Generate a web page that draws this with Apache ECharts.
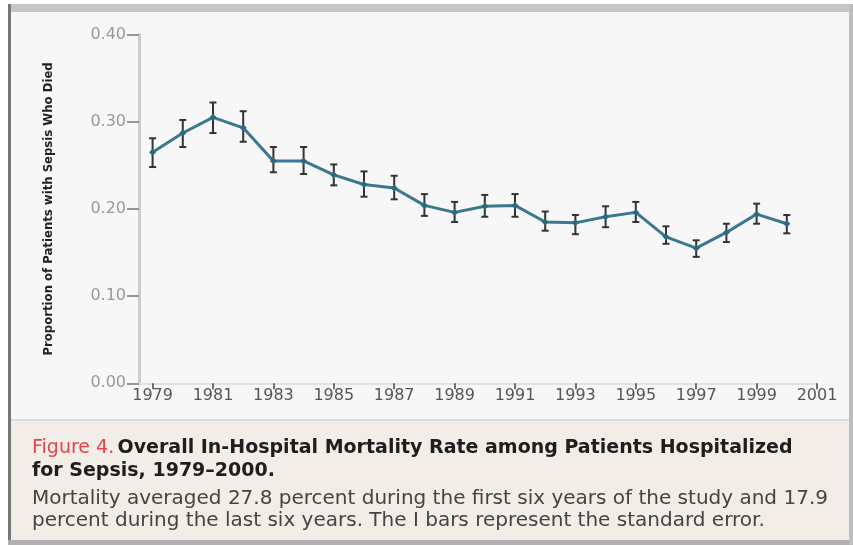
<!DOCTYPE html>
<html>
<head>
<meta charset="utf-8">
<script src="https://cdn.jsdelivr.net/npm/echarts@6/dist/echarts.min.js"></script>
<style>
  html, body { margin: 0; padding: 0; background: #ffffff; }
  #main { width: 853px; height: 545px; }
</style>
</head>
<body>
<div id="main"></div>
<script>
'use strict';

// values
var years = [1979, 1980, 1981, 1982, 1983, 1984, 1985, 1986, 1987, 1988, 1989,
             1990, 1991, 1992, 1993, 1994, 1995, 1996, 1997, 1998, 1999, 2000];
var mortality = [0.265, 0.287, 0.305, 0.293, 0.255, 0.255, 0.239, 0.228, 0.224, 0.204, 0.196,
                 0.203, 0.204, 0.185, 0.184, 0.191, 0.196, 0.168, 0.155, 0.173, 0.194, 0.183];
var errLow = [0.248, 0.271, 0.287, 0.277, 0.242, 0.240, 0.227, 0.214, 0.211, 0.192, 0.185,
              0.191, 0.191, 0.175, 0.171, 0.179, 0.185, 0.160, 0.145, 0.162, 0.183, 0.172];
var errHigh = [0.281, 0.302, 0.322, 0.312, 0.271, 0.271, 0.251, 0.243, 0.238, 0.217, 0.208,
               0.216, 0.217, 0.197, 0.193, 0.203, 0.208, 0.180, 0.164, 0.183, 0.206, 0.193];
var yearTicks = [1979, 1981, 1983, 1985, 1987, 1989, 1991, 1993, 1995, 1997, 1999, 2001];

var myChart = echarts.init(document.getElementById('main'));

var lineData = years.map(function (y, i) { return [y, mortality[i]]; });
var errData = years.map(function (y, i) { return [y, errLow[i], errHigh[i]]; });

var option = {
    backgroundColor: '#f7f7f7',
    animation: false,
    grid: { left: 139, right: 36, top: 34.5, bottom: 161.7 },
    xAxis: {
        type: 'value',
        min: 1978.55,
        max: 2001,
        axisLine: { show: true, lineStyle: { color: '#e2e2e2', width: 2 } },
        axisTick: { show: true, customValues: yearTicks, length: 6, lineStyle: { color: '#444', width: 1.5 } },
        axisLabel: {
            customValues: yearTicks,
            margin: 5,
            color: '#555',
            fontSize: 16,
            fontFamily: 'DejaVu Sans',
            formatter: function (v) { return String(v); }
        },
        splitLine: { show: false }
    },
    yAxis: {
        type: 'value',
        min: 0,
        max: 0.4,
        interval: 0.1,
        name: 'Proportion of Patients with Sepsis Who Died',
        nameLocation: 'middle',
        nameRotate: 90,
        nameGap: 84,
        nameTextStyle: { color: '#222', fontSize: 13, fontFamily: 'DejaVu Sans Condensed, DejaVu Sans', fontWeight: 'bold' },
        axisLine: { show: true, lineStyle: { color: '#cccccc', width: 3 } },
        axisTick: { show: true, length: 12, lineStyle: { color: '#777', width: 1.5 } },
        axisLabel: {
            margin: 13,
            color: '#999',
            fontSize: 16,
            fontFamily: 'DejaVu Sans',
            formatter: function (v) { return v.toFixed(2); }
        },
        splitLine: { show: false }
    },
    graphic: [
        // caption panel
        { type: 'rect', shape: { x: 0, y: 421, width: 853, height: 124 }, style: { fill: '#f2ede7' }, z: -1 },
        { type: 'rect', shape: { x: 0, y: 419, width: 853, height: 2 }, style: { fill: '#e0dcd7' } },
        // frame
        { type: 'rect', shape: { x: 0, y: 0, width: 853, height: 4 }, style: { fill: '#ffffff' } },
        { type: 'rect', shape: { x: 0, y: 0, width: 8, height: 545 }, style: { fill: '#ffffff' } },
        { type: 'rect', shape: { x: 8, y: 4, width: 845, height: 8 }, style: { fill: '#c6c6c6' } },
        { type: 'rect', shape: { x: 8, y: 4, width: 3, height: 541 }, style: { fill: '#777777' } },
        { type: 'rect', shape: { x: 8, y: 540, width: 845, height: 5 }, style: { fill: '#b0b0b0' } },
        { type: 'rect', shape: { x: 849, y: 4, width: 4, height: 541 }, style: { fill: '#bdbdbd' } },
        // caption text
        {
            type: 'text', left: 32, top: 439,
            style: {
                text: '{r|Figure 4.} {b|Overall In-Hospital Mortality Rate among Patients Hospitalized}',
                rich: {
                    r: { fill: '#e8434a', fontSize: 19, fontFamily: 'DejaVu Sans' },
                    b: { fill: '#1e1e1e', fontSize: 19, fontWeight: 'bold', fontFamily: 'DejaVu Sans' }
                }
            }
        },
        {
            type: 'text', left: 32, top: 462,
            style: { text: 'for Sepsis, 1979\u20132000.', fill: '#1e1e1e', fontSize: 19, fontWeight: 'bold', fontFamily: 'DejaVu Sans' }
        },
        {
            type: 'text', left: 32, top: 489,
            style: { text: 'Mortality averaged 27.8 percent during the first six years of the study and 17.9', fill: '#444', fontSize: 20, fontFamily: 'DejaVu Sans' }
        },
        {
            type: 'text', left: 32, top: 511,
            style: { text: 'percent during the last six years. The I bars represent the standard error.', fill: '#444', fontSize: 20, fontFamily: 'DejaVu Sans' }
        }
    ],
    series: [
        {
            type: 'custom',
            name: 'standard error',
            data: errData,
            encode: { x: 0, y: [1, 2] },
            z: 3,
            renderItem: function (params, api) {
                var x = api.value(0);
                var lo = api.coord([x, api.value(1)]);
                var hi = api.coord([x, api.value(2)]);
                var half = 3.5;
                var st = { stroke: '#333', lineWidth: 2 };
                return {
                    type: 'group',
                    children: [
                        { type: 'line', shape: { x1: lo[0], y1: lo[1], x2: hi[0], y2: hi[1] }, style: st },
                        { type: 'line', shape: { x1: lo[0] - half, y1: lo[1], x2: lo[0] + half, y2: lo[1] }, style: st },
                        { type: 'line', shape: { x1: hi[0] - half, y1: hi[1], x2: hi[0] + half, y2: hi[1] }, style: st }
                    ]
                };
            }
        },
        {
            type: 'line',
            name: 'mortality',
            data: lineData,
            z: 4,
            symbol: 'diamond',
            symbolSize: 7,
            itemStyle: { color: '#2a6a80' },
            lineStyle: { color: '#3a7890', width: 3 }
        }
    ]
};

myChart.setOption(option);
</script>
</body>
</html>
